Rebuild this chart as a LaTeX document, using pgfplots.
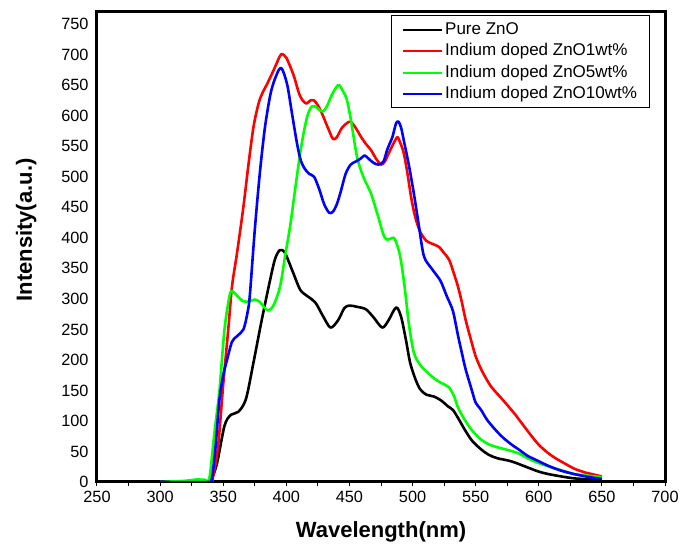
\documentclass[border=0pt]{standalone}
\usepackage{fontspec}
\setmainfont{Liberation Sans}
\usepackage{pgfplots}
\usepackage{pgfplotstable}
\pgfplotsset{compat=1.18}

\pgfplotstableread{
x y
300 0
335 0
340 2
345 30
351 92
356 110
362 115
368 136
374 196
380 260
386 320
391 365
395 380
399 375
405 345
411 315
417 304
423 294
429 272
435 253
441 265
446 285
450 289
456 287
463 283
469 270
476 253
481 265
487 286
491 270
495 230
498 196
502 170
506 152
511 143
517 140
523 133
528 124
532 118
536 105
541 87
547 68
554 54
560 45
567 39
578 34
591 24
600 17
610 12
628 6
650 3
}\pure

\pgfplotstableread{
x y
300 0
338 0
342 10
346 60
350 160
354 250
357 321
361 376
366 451
370 520
374 582
378 620
381 637
385 653
390 675
395 698
397 701
400 695
402 686
406 665
410 637
413 625
416 620
419 625
422 625
425 617
428 605
433 580
437 562
440 565
444 580
448 588
451 590
455 580
459 566
463 554
467 544
471 530
475 520
478 525
481 538
485 555
488 565
490 557
493 539
496 505
499 465
502 435
506 410
511 395
516 390
521 385
525 375
529 364
533 340
536 320
539 295
542 266
546 235
550 206
555 182
562 157
570 138
580 114
587 95
594 76
600 61
607 48
614 38
620 31
628 22
636 16
644 12
650 9
}\one

\pgfplotstableread{
x y
300 0
320 2
328 4
335 4
339 6
343 80
347 150
351 250
355 305
357 313
361 305
366 296
371 296
375 299
379 295
383 285
386 281
390 290
395 320
399 370
403 419
407 480
411 539
414 575
417 602
420 615
423 615
426 610
429 607
432 615
436 634
440 648
442 650
445 640
448 626
451 595
456 533
461 500
467 473
472 440
477 405
480 397
484 400
486 398
489 380
491 360
494 315
497 260
501 212
506 192
512 179
517 170
522 163
526 159
529 155
533 140
536 122
541 103
547 85
554 70
560 62
567 57
578 51
585 46
591 39
600 31
610 24
620 18
628 13
640 10
650 8
}\five

\pgfplotstableread{
x y
300 0
338 0
341 5
344 60
347 135
350 175
353 200
357 230
361 239
366 250
369 275
371 304
375 413
379 506
383 580
387 631
390 655
394 675
396 678
398 670
401 648
404 610
408 560
411 530
414 515
418 505
422 500
426 480
430 455
434 441
437 443
440 455
443 475
447 505
451 520
455 525
459 530
462 535
465 530
469 523
473 520
477 525
480 545
484 565
487 588
489 590
491 580
493 560
497 520
501 473
505 420
509 370
515 350
522 330
527 305
532 280
536 240
539 212
542 185
547 150
550 130
554 119
559 102
565 87
571 74
578 62
585 52
591 43
600 34
607 27
617 19
628 13
640 8
650 5
}\ten

\begin{document}
\begin{tikzpicture}
\begin{axis}[
  name=ax,
  scale only axis,
  width=568pt, height=470pt,
  xmin=250, xmax=700, ymin=0, ymax=770,
  xtick={250,300,...,700},
  ytick={0,50,...,750},
  minor x tick num=1,
  xtick pos=bottom, ytick pos=left,
  tick align=outside,
  major tick length=4pt, minor tick length=4pt,
  xtick style={black, line width=1pt},
  ytick style={draw=none},
  axis line style={line width=3pt},
  /pgf/number format/assume math mode=true,
  /pgf/number format/1000 sep={},
  ticklabel style={font=\fontsize{16.3}{19}\selectfont},
  xticklabel style={yshift=-2pt},
  yticklabel style={xshift=-1pt},
  xlabel={\textbf{Wavelength(nm)}},
  ylabel={\textbf{Intensity(a.u.)}},
  label style={font=\fontsize{22}{24}\selectfont},
  xlabel style={yshift=-12pt},
  ylabel style={yshift=18pt, xshift=17pt},
  legend style={
    at={(rel axis cs:1,1)}, anchor=north east,
    xshift=-15pt, yshift=-3.5pt,
    draw=black, line width=1pt,
    font=\fontsize{17}{20}\selectfont,
    inner xsep=10pt, inner ysep=3pt,
    row sep=0pt,
    nodes={inner ysep=2.3pt, text height=13pt, text depth=3.9pt, inner xsep=2.5pt},
    cells={anchor=west},
  },
  legend image code/.code={\draw[#1, line width=2pt] (0pt,0pt) -- (39pt,0pt);},
  every axis plot/.append style={line width=2.6pt, line join=round, smooth, tension=0.5},
]
\addplot[black] table[x=x,y=y] {\pure};
\addlegendentry{Pure ZnO}
\addplot[red] table[x=x,y=y] {\one};
\addlegendentry{Indium doped ZnO1wt\%}
\addplot[green] table[x=x,y=y] {\five};
\addlegendentry{Indium doped ZnO5wt\%}
\addplot[blue] table[x=x,y=y] {\ten};
\addlegendentry{Indium doped ZnO10wt\%}
\end{axis}
\pgfresetboundingbox
\useasboundingbox ([shift={(-97pt,-66pt)}]ax.south west) rectangle ([shift={(17pt,12pt)}]ax.north east);
\end{tikzpicture}
\end{document}
